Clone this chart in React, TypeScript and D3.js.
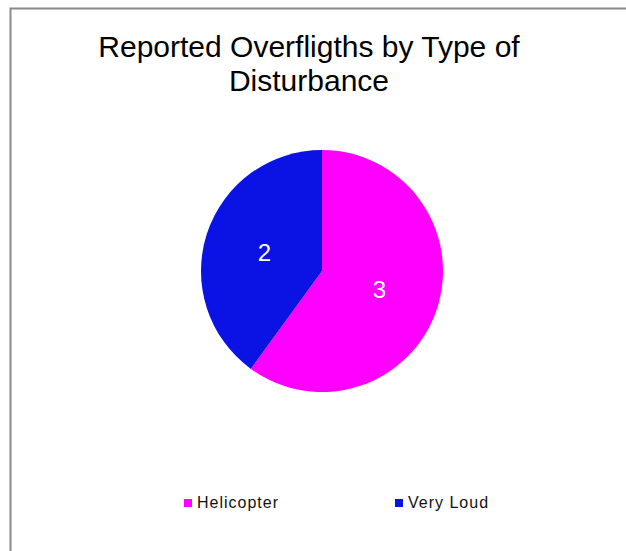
import React, { useEffect, useRef } from "react";
import * as d3 from "d3";

// chart data
const categories = ["Helicopter", "Very Loud"];
const values = [3, 2];
const colors = ["#FF00FF", "#0A12E4"];
const titleLines = ["Reported Overfligths by Type of", "Disturbance"];

const W = 626;
const H = 551;

export default function App() {
  const ref = useRef<SVGSVGElement>(null);

  useEffect(() => {
    const svg = d3.select(ref.current);
    svg.selectAll("*").remove();

    // chart area border (runs off the right / bottom edge)
    svg
      .append("rect")
      .attr("x", 10.5)
      .attr("y", 8.5)
      .attr("width", W + 20)
      .attr("height", H + 20)
      .attr("fill", "white")
      .attr("stroke", "#8a8a8a")
      .attr("stroke-width", 2);

    // title
    svg
      .append("g")
      .selectAll("text")
      .data(titleLines)
      .join("text")
      .attr("x", 309)
      .attr("y", (d, i) => 57 + i * 34)
      .attr("text-anchor", "middle")
      .attr("font-family", "Liberation Sans, Arial, sans-serif")
      .attr("font-size", 30)
      .attr("fill", "#000")
      .text(d => d);

    // pie
    var cx = 322,
      cy = 271,
      r = 121;
    var pie = d3
      .pie<number>()
      .sort(null)
      .value(d => d);
    var arcs = pie(values);
    var arc = d3.arc<d3.PieArcDatum<number>>().innerRadius(0).outerRadius(r);

    var g = svg.append("g").attr("transform", `translate(${cx},${cy})`);
    g.selectAll("path")
      .data(arcs)
      .join("path")
      .attr("d", arc)
      .attr("fill", (d, i) => colors[i]);

    g.selectAll(".lbl")
      .data(arcs)
      .join("text")
      .attr("class", "lbl")
      .attr("x", d => arc.centroid(d)[0])
      .attr("y", d => arc.centroid(d)[1])
      .attr("dy", "0.36em")
      .attr("text-anchor", "middle")
      .attr("font-family", "Liberation Sans, Arial, sans-serif")
      .attr("font-size", 24)
      .attr("fill", "white")
      .text(d => d.data);

    // legend
    var lx = d3.scalePoint().domain(categories).range([184, 395]);
    var items = svg
      .append("g")
      .selectAll("g")
      .data(categories)
      .join("g")
      .attr("transform", d => `translate(${lx(d)},499)`);
    items
      .append("rect")
      .attr("width", 8)
      .attr("height", 8)
      .attr("fill", (d, i) => colors[i]);
    items
      .append("text")
      .attr("x", 13)
      .attr("y", 9)
      .attr("font-family", "Liberation Sans, Arial, sans-serif")
      .attr("font-size", 16)
      .attr("letter-spacing", 1)
      .attr("fill", "#111")
      .text(d => d);
  }, []);

  return (
    <svg
      ref={ref}
      width={W}
      height={H}
      style={{ position: "absolute", left: 0, top: 0, background: "white" }}
    />
  );
}
